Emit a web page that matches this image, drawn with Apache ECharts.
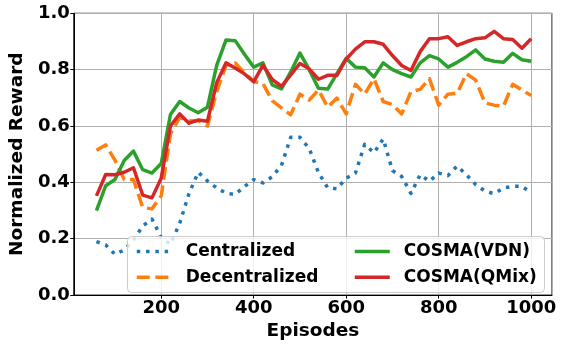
<!DOCTYPE html>
<html>
<head>
<meta charset="utf-8">
<script src="https://cdn.jsdelivr.net/npm/echarts@6/dist/echarts.min.js"></script>
<style>html,body{margin:0;padding:0;background:#fff;}#c{width:561px;height:346px;}</style>
</head>
<body>
<div id="c"></div>
<script>
const episodes = [60,80,100,120,140,160,180,200,220,240,260,280,300,320,340,360,380,400,420,440,460,480,500,520,540,560,580,600,620,640,660,680,700,720,740,760,780,800,820,840,860,880,900,920,940,960,980,1000];
const centralized = [0.19,0.178,0.145,0.16,0.195,0.245,0.27,0.205,0.18,0.255,0.36,0.436,0.405,0.38,0.362,0.357,0.385,0.41,0.398,0.42,0.46,0.56,0.56,0.52,0.435,0.381,0.377,0.415,0.433,0.535,0.505,0.554,0.442,0.421,0.361,0.427,0.404,0.433,0.424,0.458,0.427,0.392,0.369,0.36,0.38,0.386,0.386,0.363];
const decentralized = [0.514,0.533,0.479,0.41,0.41,0.311,0.306,0.352,0.572,0.63,0.618,0.62,0.60,0.722,0.815,0.824,0.788,0.758,0.751,0.69,0.664,0.64,0.713,0.692,0.728,0.667,0.699,0.643,0.748,0.713,0.768,0.687,0.676,0.643,0.722,0.73,0.768,0.674,0.713,0.716,0.786,0.763,0.682,0.674,0.67,0.748,0.728,0.708];
const cosmaVDN = [0.30,0.388,0.41,0.478,0.511,0.445,0.433,0.467,0.641,0.687,0.664,0.647,0.667,0.815,0.905,0.903,0.855,0.809,0.824,0.746,0.732,0.792,0.859,0.80,0.734,0.731,0.786,0.84,0.809,0.807,0.774,0.824,0.80,0.786,0.774,0.824,0.85,0.838,0.809,0.826,0.846,0.87,0.838,0.83,0.826,0.858,0.835,0.83];
const cosmaQMix = [0.352,0.428,0.427,0.436,0.452,0.355,0.345,0.415,0.60,0.643,0.61,0.621,0.617,0.754,0.824,0.806,0.785,0.757,0.816,0.765,0.741,0.781,0.822,0.803,0.766,0.78,0.78,0.838,0.873,0.899,0.899,0.89,0.85,0.815,0.797,0.864,0.91,0.91,0.917,0.886,0.899,0.91,0.913,0.936,0.91,0.907,0.876,0.91];
const seriesNames = ['Centralized','Decentralized','COSMA(VDN)','COSMA(QMix)'];

const pair = arr => episodes.map((x,i)=>[x,arr[i]]);
const FONT = 'DejaVu Sans';
const chart = echarts.init(document.getElementById('c'), null, {renderer:'canvas'});
const lw = 3.5;
const colors = ['#1f77b4','#ff7f0e','#2ca02c','#d62728'];
const dashes = [[3.5,5.8],[13,5.6],'solid','solid'];
function mk(i, data){
  return {
    name: seriesNames[i], type:'line', data: pair(data), showSymbol:false, symbol:'none',
    lineStyle:{color:colors[i], width:lw, type:dashes[i], cap:'butt', join:'round'},
    itemStyle:{color:colors[i]}, animation:false, z:3
  };
}
function legItem(i){
  return {name:seriesNames[i], itemStyle:{opacity:0},
    lineStyle:{color:colors[i], width:lw, type:dashes[i], cap:'butt'}};
}
const legendText = {fontFamily:FONT, fontWeight:'bold', fontSize:17, color:'#000', padding:[0,0,0,9], lineHeight:17};
chart.setOption({
  animation:false,
  backgroundColor:'#fff',
  grid:{left:69, right:9, top:13.3, bottom:44.7, show:true, borderColor:'#000', borderWidth:1, backgroundColor:'transparent'},
  xAxis:{
    type:'value', min:11, max:1045, splitNumber:5,
    name:'Episodes', nameLocation:'middle', nameGap:19,
    nameTextStyle:{fontFamily:FONT, fontWeight:'bold', fontSize:18.5, color:'#000'},
    axisLine:{show:true, lineStyle:{color:'#000', width:1}},
    axisTick:{show:true, length:3.5, lineStyle:{color:'#000'}},
    axisLabel:{fontFamily:FONT, fontWeight:'bold', fontSize:18, color:'#000', margin:4, showMinLabel:false, showMaxLabel:false, formatter:v=>String(v)},
    splitLine:{show:true, lineStyle:{color:'#b0b0b0', width:1}}
  },
  yAxis:{
    type:'value', min:0, max:1, interval:0.2,
    name:'Normalized Reward', nameLocation:'middle', nameGap:38,
    nameTextStyle:{fontFamily:FONT, fontWeight:'bold', fontSize:18.5, color:'#000'},
    axisLine:{show:true, lineStyle:{color:'#000', width:1}},
    axisTick:{show:true, length:3.5, lineStyle:{color:'#000'}},
    axisLabel:{fontFamily:FONT, fontWeight:'bold', fontSize:18, color:'#000', margin:4, formatter:v=>v.toFixed(1)},
    splitLine:{show:true, lineStyle:{color:'#b0b0b0', width:1}}
  },
  graphic:[{type:'rect', z:10, shape:{x:127.5, y:236.5, width:417, height:56, r:4},
    style:{fill:'rgba(255,255,255,0.8)', stroke:'#cccccc', lineWidth:1}}],
  legend:[
    {data:[legItem(0), legItem(1)], orient:'vertical', left:135, top:243, padding:0, itemWidth:35, itemHeight:14, itemGap:8.8, textStyle:legendText, z:20, selectedMode:false},
    {data:[legItem(2), legItem(3)], orient:'vertical', left:353, top:243, padding:0, itemWidth:35, itemHeight:14, itemGap:8.8, textStyle:legendText, z:20, selectedMode:false}
  ],
  series:[
    mk(0, centralized),
    mk(1, decentralized),
    mk(2, cosmaVDN),
    mk(3, cosmaQMix)
  ]
});
</script>
</body>
</html>
